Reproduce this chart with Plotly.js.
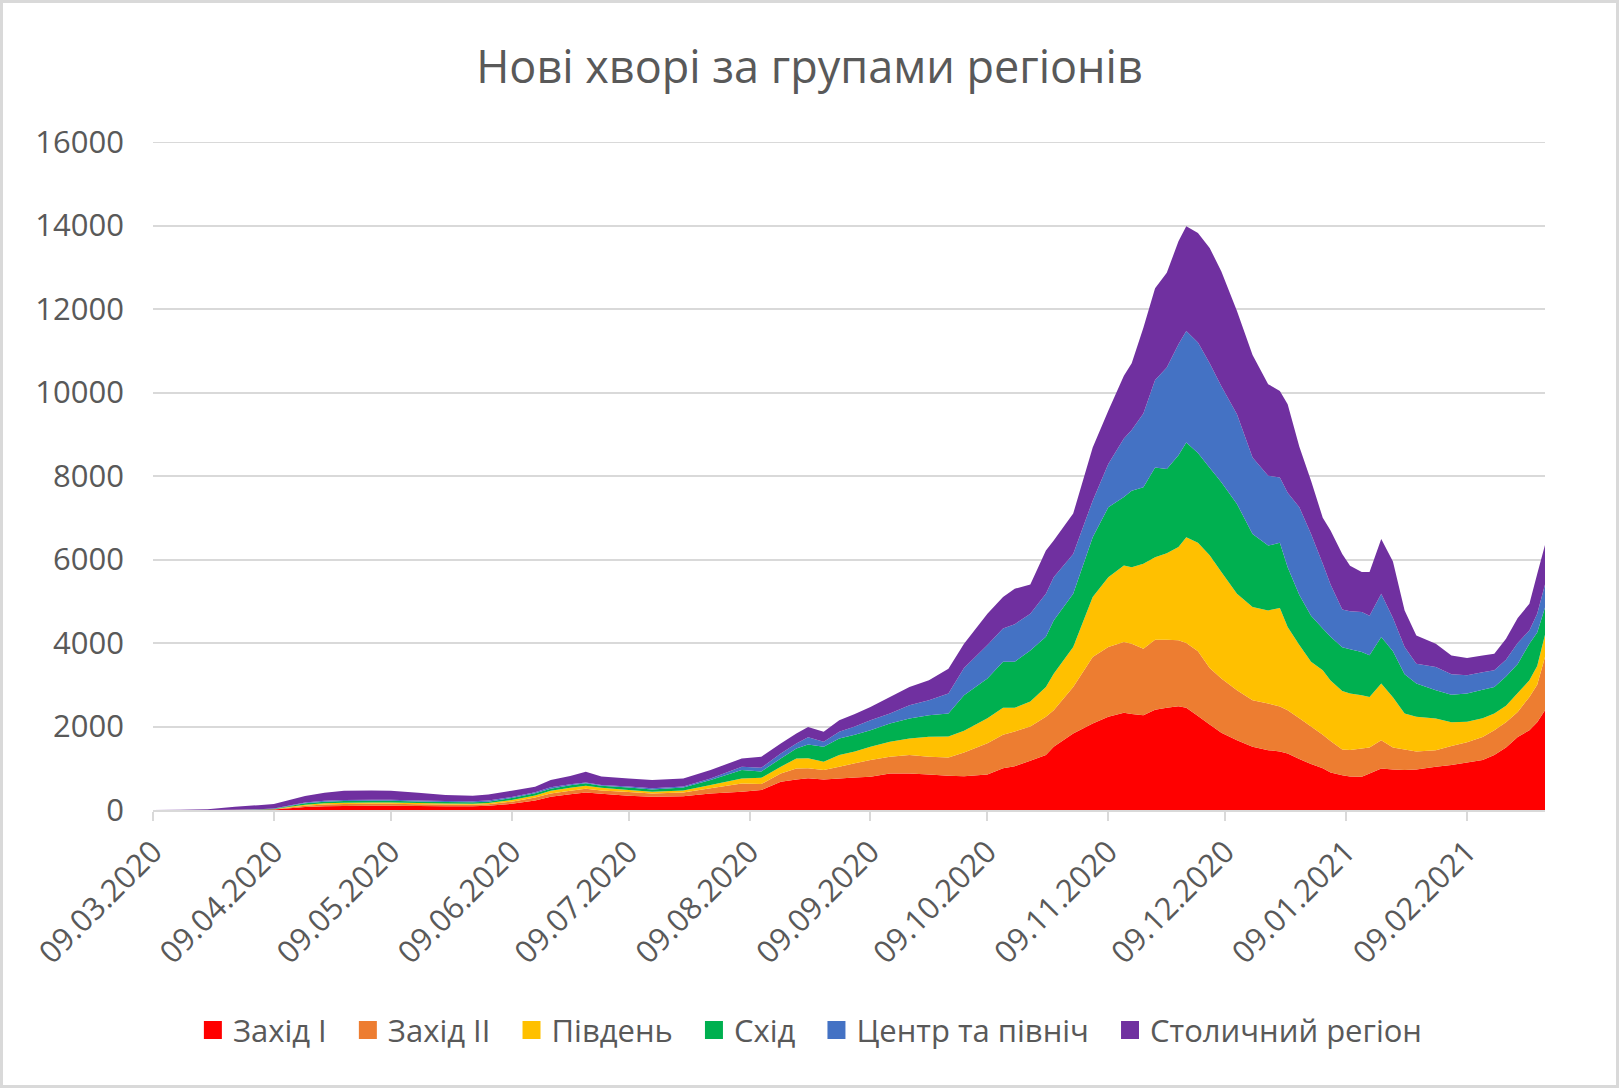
<!DOCTYPE html>
<html>
<head>
<meta charset="utf-8">
<script src="https://cdn.plot.ly/plotly-3.0.1.min.js"></script>
<style>
html, body { margin: 0; padding: 0; background: #fff; }
#chart { width: 1619px; height: 1088px; }
#frame { position: absolute; left: 0; top: 0; width: 1619px; height: 1088px; box-sizing: border-box; border: 3px solid #d9d9d9; pointer-events: none; }
</style>
</head>
<body>
<div id="chart"></div>
<div id="frame"></div>
<script>
// dates (irregular steps, denser near the peaks)
var dates = ['2020-03-09','2020-03-16','2020-03-23','2020-03-30','2020-04-05','2020-04-09','2020-04-13','2020-04-17','2020-04-22','2020-04-27',
  '2020-05-04','2020-05-09','2020-05-16','2020-05-23','2020-05-30','2020-06-03','2020-06-09','2020-06-15','2020-06-19','2020-06-24',
  '2020-06-28','2020-07-02','2020-07-09','2020-07-15','2020-07-23','2020-07-30','2020-08-07','2020-08-12','2020-08-17','2020-08-21',
  '2020-08-24','2020-08-28','2020-09-01','2020-09-05','2020-09-09','2020-09-14','2020-09-19','2020-09-24','2020-09-29','2020-10-03',
  '2020-10-09','2020-10-13','2020-10-16','2020-10-20','2020-10-24','2020-10-26','2020-10-31','2020-11-05','2020-11-09','2020-11-13',
  '2020-11-15','2020-11-18','2020-11-21','2020-11-24','2020-11-27','2020-11-29','2020-12-02','2020-12-05','2020-12-08','2020-12-12',
  '2020-12-16','2020-12-20','2020-12-23','2020-12-25','2020-12-28','2020-12-31','2021-01-03','2021-01-05','2021-01-08','2021-01-10',
  '2021-01-13','2021-01-15','2021-01-18','2021-01-21','2021-01-24','2021-01-27','2021-02-01','2021-02-05','2021-02-09','2021-02-13',
  '2021-02-16','2021-02-19','2021-02-22','2021-02-25','2021-02-27','2021-03-01'];

var zakhid1 = [0,0,0,1,3,10,40,70,90,96, 100,100,95,90,90,100,150,230,319,380,
  420,390,340,319,330,398,438,478,677,733, 760,733,757,780,797,876,876,853,820,810,
  850,1000,1050,1180,1315,1514,1833,2072,2231,2327, 2300,2270,2400,2450,2486,2450,2250,2050,1850,1673,
  1514,1434,1400,1354,1220,1100,1000,900,830,800, 797,876,996,970,956,970,1036,1076,1140,1200,
  1315,1500,1750,1912,2100,2390];

var zakhid2 = [0,0,0,1,2,5,20,30,40,47, 50,50,45,40,38,40,50,70,79,80,
  90,80,90,79,90,120,199,142,199,263, 240,223,279,340,398,399,439,422,440,570,
  750,800,830,820,916,876,1115,1593,1673,1697, 1683,1594,1680,1630,1577,1550,1550,1350,1300,1195,
  1115,1116,1080,1036,980,900,800,750,620,640, 677,624,677,530,494,430,398,454,480,550,
  597,600,600,797,900,1275];

var pivden = [0,0,0,1,3,5,15,25,30,32, 30,30,30,25,22,25,40,50,64,70,
  70,60,50,40,50,80,120,150,160,239, 240,199,279,280,319,358,398,478,500,520,
  600,650,570,600,717,876,956,1434,1673,1831, 1832,2036,1975,2070,2237,2533,2600,2700,2550,2310,
  2231,2230,2360,1992,1750,1550,1550,1450,1400,1350, 1275,1209,1354,1200,860,831,757,570,491,450,
  398,400,450,398,450,535];

var skhid = [0,0,0,2,4,8,20,35,40,40, 42,40,35,35,36,35,50,50,48,60,
  60,50,60,56,70,119,199,150,199,239, 330,359,398,400,398,439,478,518,551,850,
  950,1100,1100,1220,1202,1275,1274,1434,1673,1645, 1833,1828,2150,2017,2200,2270,2150,2100,2150,2152,
  1752,1554,1560,1433,1200,1100,1000,1050,1050,1060, 1035,996,1116,1100,940,796,677,660,678,680,
  638,700,700,876,800,650];

var tsentr = [0,0,1,3,6,7,15,20,20,24, 24,25,23,25,24,25,20,25,32,25,
  20,20,20,24,25,40,80,90,119,119, 170,119,159,200,239,238,319,358,478,650,
  800,800,900,880,1028,1036,956,876,1035,1400, 1452,1772,2095,2433,2654,2669,2650,2500,2300,2151,
  1833,1673,1567,1785,2100,1962,1550,1250,900,910, 957,945,1035,800,654,478,557,490,438,420,
  398,400,500,319,450,550];

var stolychnyi = [0,4,19,72,97,110,130,155,194,223, 224,217,186,143,132,149,152,132,175,198,
  256,200,197,199,192,199,199,265,239,239, 250,239,279,300,319,399,438,478,597,580,
  750,750,850,700,1036,876,966,1275,1275,1500, 1600,2050,2200,2266,2469,2510,2621,2763,2750,2469,
  2455,2193,2071,2120,1450,1275,1100,1292,1334,1090, 959,1050,1315,1350,876,677,558,450,413,400,
  398,500,600,638,950,950];

var names = ['Захід I', 'Захід II', 'Південь', 'Схід', 'Центр та північ', 'Столичний регіон'];
var colors = ['#FF0000', '#ED7D31', '#FFC000', '#00B050', '#4472C4', '#7030A0'];
var series = [zakhid1, zakhid2, pivden, skhid, tsentr, stolychnyi];

// stacked areas, no outline
var data = series.map(function (vals, i) {
  return {
    x: dates,
    y: vals,
    name: names[i],
    type: 'scatter',
    mode: 'none',
    stackgroup: 'one',
    fillcolor: colors[i],
    showlegend: false,
    hoverinfo: 'skip'
  };
});

// legend entries with square keys like the Excel legend
names.forEach(function (n, i) {
  data.push({
    x: [null],
    y: [null],
    name: n + '\u00a0\u00a0',
    type: 'scatter',
    mode: 'markers',
    marker: {symbol: 'square', size: 16, color: colors[i], line: {width: 2, color: colors[i]}},
    showlegend: true,
    hoverinfo: 'skip'
  });
});

var layout = {
  width: 1619,
  height: 1088,
  paper_bgcolor: '#ffffff',
  plot_bgcolor: '#ffffff',
  font: {family: 'Open Sans, Noto Sans, sans-serif', color: '#595959', size: 31},
  title: {
    text: 'Нові хворі за групами регіонів',
    x: 0.5, xref: 'container', xanchor: 'center',
    y: 1 - 67 / 1088, yref: 'container', yanchor: 'middle',
    font: {size: 45, color: '#595959'}
  },
  margin: {l: 153, r: 74, t: 142, b: 278, autoexpand: false},
  showlegend: true,
  legend: {
    orientation: 'h', x: 0.478, xanchor: 'center', y: -0.33, yanchor: 'middle',
    traceorder: 'normal', font: {size: 31, color: '#595959'}
  },
  xaxis: {
    type: 'date',
    range: ['2020-03-09', '2021-03-01'],
    tick0: '2020-03-09', dtick: 'M1', tickformat: '%d.%m.%Y',
    tickangle: -45,
    ticks: 'outside', ticklen: 9, tickwidth: 2, tickcolor: '#d9d9d9',
    showline: true, linecolor: '#d9d9d9', linewidth: 2,
    showgrid: false, zeroline: false, automargin: false
  },
  yaxis: {
    range: [0, 16000], tick0: 0, dtick: 2000, tickformat: 'd',
    showgrid: true, gridcolor: '#d9d9d9', gridwidth: 2,
    zeroline: false, showline: false, ticks: '',
    ticklabelstandoff: 28, automargin: false
  },
  // top gridline sits on the plot edge, draw it explicitly
  shapes: [{
    type: 'line', xref: 'paper', x0: 0, x1: 1, yref: 'y', y0: 16000, y1: 16000,
    line: {color: '#d9d9d9', width: 2}, layer: 'below'
  }]
};

Plotly.newPlot('chart', data, layout, {displayModeBar: false, staticPlot: true});
</script>
</body>
</html>
